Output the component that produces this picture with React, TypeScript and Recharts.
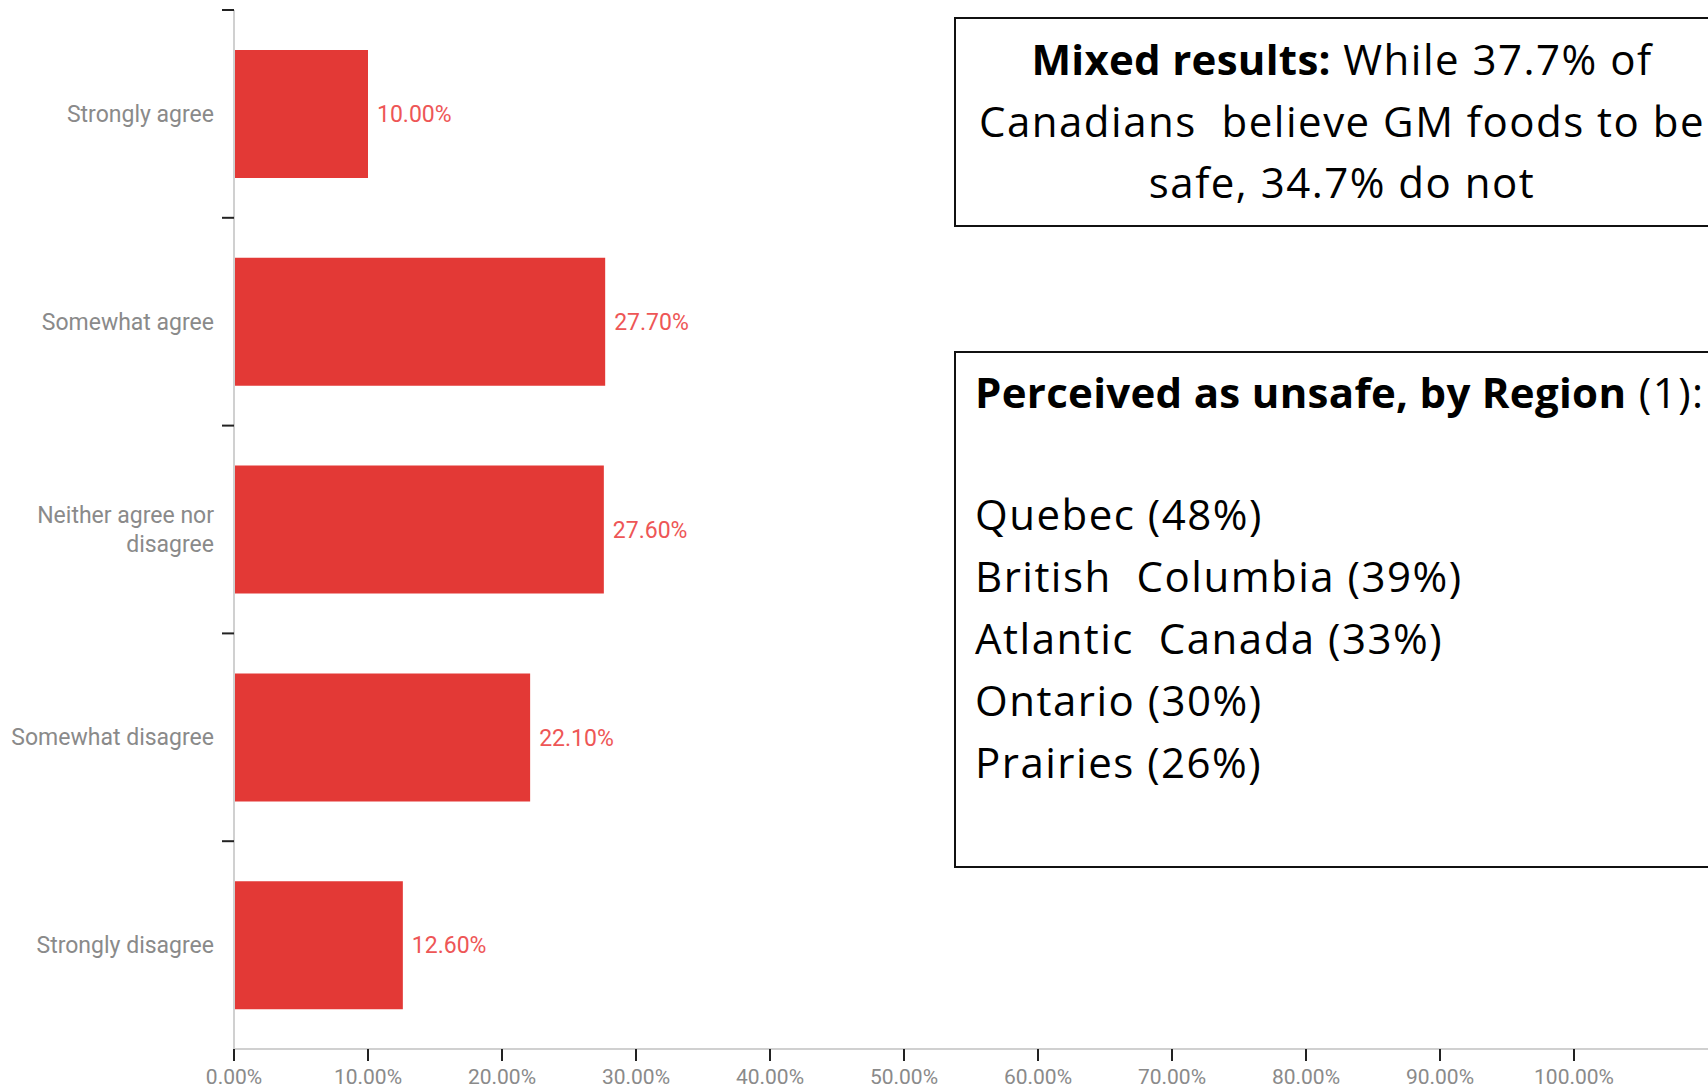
import React from "react";
import { BarChart, Bar, XAxis, YAxis, LabelList } from "recharts";

const categories = [
  "Strongly agree",
  "Somewhat agree",
  "Neither agree nor disagree",
  "Somewhat disagree",
  "Strongly disagree",
];
const shares = [10.0, 27.7, 27.6, 22.1, 12.6];
const xTicks = [0, 10, 20, 30, 40, 50, 60, 70, 80, 90, 100];

const mixedTitle = "Mixed results:";
const mixedLines = [" While 37.7% of", "Canadians  believe GM foods to be", "safe, 34.7% do not"];
const regionTitle = "Perceived as unsafe, by Region";
const regionNote = " (1):";
// the slide text has the wider gaps of the original layout
const regions = ["Quebec ", "British  Columbia ", "Atlantic  Canada ", "Ontario ", "Prairies "];
const regionShares = [48, 39, 33, 30, 26];

const data = categories.map((name, i) => ({ name, share: shares[i] }));

const BAR_RED = "#e33936";
const LABEL_RED = "#ee5656";
const GREY_TEXT = "#8a8a8a";
const CHART_FONT = "Roboto, sans-serif";
const BOX_FONT = "'Open Sans', sans-serif";

// break long category names onto two lines
function wrap(text: string, max: number): string[] {
  const words = text.split(" ");
  const lines: string[] = [];
  let cur = "";
  for (const w of words) {
    const next = cur ? cur + " " + w : w;
    if (next.length > max && cur) {
      lines.push(cur);
      cur = w;
    } else {
      cur = next;
    }
  }
  if (cur) lines.push(cur);
  return lines;
}

function CategoryTick(props: any) {
  const { x, y, payload } = props;
  const lines = wrap(String(payload.value), 18);
  const half = payload.offset ?? 104;
  const axisX = x + 20;
  const lh = 29;
  return (
    <g>
      <line x1={axisX - 12} x2={axisX} y1={y - half} y2={y - half} stroke="#222" strokeWidth={2} />
      <text
        x={x}
        y={y - ((lines.length - 1) * lh) / 2}
        textAnchor="end"
        dominantBaseline="central"
        fill={GREY_TEXT}
        fontSize={23}
        fontFamily={CHART_FONT}
      >
        {lines.map((l, i) => (
          <tspan key={i} x={x} dy={i === 0 ? 0 : lh}>
            {l}
          </tspan>
        ))}
      </text>
    </g>
  );
}

const boxBase: React.CSSProperties = {
  position: "absolute",
  left: 954,
  width: 776,
  border: "2px solid #111",
  background: "#fff",
  boxSizing: "border-box",
  fontFamily: BOX_FONT,
  fontSize: 42,
  letterSpacing: 1.5,
  color: "#000",
  whiteSpace: "pre",
};

const boldStyle: React.CSSProperties = { fontWeight: 700, letterSpacing: 0.3 };

export default function App() {
  return (
    <div
      style={{
        position: "absolute",
        left: 0,
        top: 0,
        width: 1708,
        height: 1089,
        overflow: "hidden",
        background: "#fff",
      }}
    >
      <BarChart
        layout="vertical"
        width={1708}
        height={1089}
        data={data}
        margin={{ top: 10, right: 0, left: 0, bottom: 0 }}
      >
        <XAxis
          type="number"
          domain={[0, 110]}
          ticks={xTicks}
          tickFormatter={(v: number) => `${v.toFixed(2)}%`}
          height={40}
          tickSize={12}
          tickMargin={8}
          axisLine={{ stroke: "#d0d0d0", strokeWidth: 2 }}
          tickLine={{ stroke: "#222", strokeWidth: 2 }}
          tick={{ fill: GREY_TEXT, fontSize: 21, fontFamily: CHART_FONT }}
        />
        <YAxis
          type="category"
          dataKey="name"
          width={234}
          tickSize={0}
          tickMargin={20}
          tickLine={false}
          axisLine={{ stroke: "#d0d0d0", strokeWidth: 2 }}
          tick={<CategoryTick />}
        />
        <Bar dataKey="share" fill={BAR_RED} barSize={128} isAnimationActive={false}>
          <LabelList
            dataKey="share"
            position="right"
            offset={9}
            formatter={(v: any) => `${Number(v).toFixed(2)}%`}
            fill={LABEL_RED}
            fontSize={23}
            fontFamily={CHART_FONT}
          />
        </Bar>
      </BarChart>

      <div style={{ ...boxBase, top: 17, height: 210, paddingTop: 9, textAlign: "center", lineHeight: "61.5px" }}>
        <div>
          <span style={boldStyle}>{mixedTitle}</span>
          {mixedLines[0]}
        </div>
        <div>{mixedLines[1]}</div>
        <div>{mixedLines[2]}</div>
      </div>

      <div style={{ ...boxBase, top: 351, height: 517, paddingTop: 8, paddingLeft: 19, lineHeight: "62px" }}>
        <div>
          <span style={boldStyle}>{regionTitle}</span>
          {regionNote}
        </div>
        <div style={{ height: 60 }} />
        {regions.map((r, i) => (
          <div key={r}>{`${r}(${regionShares[i]}%)`}</div>
        ))}
      </div>
    </div>
  );
}
